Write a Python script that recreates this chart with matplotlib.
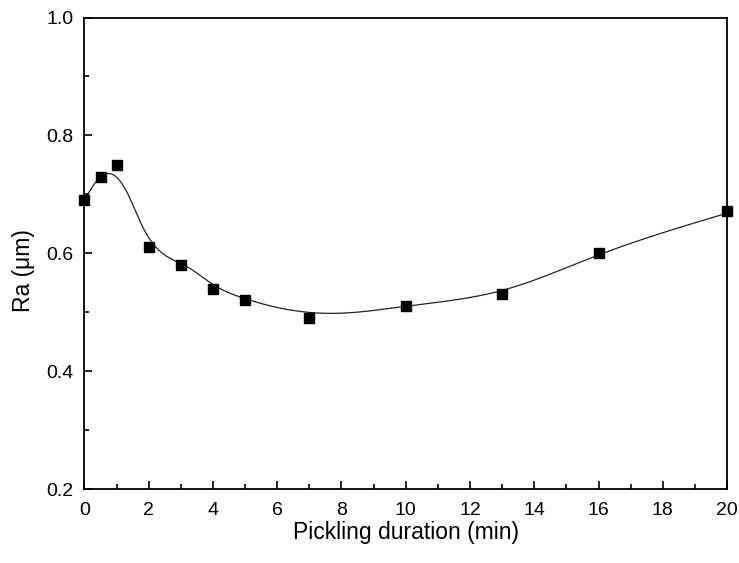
import numpy as np
import matplotlib
matplotlib.use("Agg")
import matplotlib.pyplot as plt
from matplotlib.ticker import MultipleLocator

# measured data points
duration = [0, 0.5, 1, 2, 3, 4, 5, 7, 10, 13, 16, 20]
ra = [0.69, 0.73, 0.75, 0.611, 0.58, 0.54, 0.521, 0.49, 0.511, 0.531, 0.60, 0.671]

# fitted curve (knots)
curve_x = [0, 0.4, 0.8, 1.3, 1.8, 2.5, 3.2, 4, 5, 6, 7.7, 10, 13, 16, 20]
curve_y = [0.69, 0.724, 0.735, 0.706, 0.646, 0.597, 0.577, 0.547, 0.523, 0.508, 0.498, 0.510,
           0.537, 0.597, 0.668]


def natural_spline(xk, yk, xs):
    xk = np.asarray(xk, float); yk = np.asarray(yk, float)
    n = len(xk)
    h = np.diff(xk)
    A = np.zeros((n, n)); b = np.zeros(n)
    A[0, 0] = 1; A[-1, -1] = 1
    for i in range(1, n - 1):
        A[i, i - 1] = h[i - 1]
        A[i, i] = 2 * (h[i - 1] + h[i])
        A[i, i + 1] = h[i]
        b[i] = 6 * ((yk[i + 1] - yk[i]) / h[i] - (yk[i] - yk[i - 1]) / h[i - 1])
    M = np.linalg.solve(A, b)
    idx = np.clip(np.searchsorted(xk, xs) - 1, 0, n - 2)
    x0 = xk[idx]; x1 = xk[idx + 1]; hh = x1 - x0
    t0 = x1 - xs; t1 = xs - x0
    return (M[idx] * t0**3 / (6 * hh) + M[idx + 1] * t1**3 / (6 * hh)
            + (yk[idx] / hh - M[idx] * hh / 6) * t0 + (yk[idx + 1] / hh - M[idx + 1] * hh / 6) * t1)


plt.rcParams['font.family'] = ['Liberation Sans', 'DejaVu Sans']

fig = plt.figure(figsize=(7.39, 5.63), dpi=100)
ax = fig.add_axes([0.1143, 0.1314, 0.8695, 0.8375])

xs = np.linspace(0, 20, 600)
ax.plot(xs, natural_spline(curve_x, curve_y, xs), color='#222222', lw=0.9)
ax.plot(duration, ra, linestyle='none', marker='s', color='black', markersize=7, clip_on=False)

ax.set_xlim(0, 20)
ax.set_ylim(0.2, 1.0)
ax.xaxis.set_major_locator(MultipleLocator(2))
ax.xaxis.set_minor_locator(MultipleLocator(1))
ax.yaxis.set_major_locator(MultipleLocator(0.2))
ax.yaxis.set_minor_locator(MultipleLocator(0.1))
ax.tick_params(which='both', direction='in', labelsize=14, width=1.2)
ax.tick_params(which='major', length=6)
ax.tick_params(axis='x', which='major', pad=9)
ax.tick_params(axis='y', which='major', pad=8)
ax.tick_params(which='minor', length=3.5)
for s in ax.spines.values():
    s.set_linewidth(1.3)

ax.set_xlabel('Pickling duration (min)', fontsize=16.5, labelpad=2)
ax.set_ylabel('Ra (μm)', fontsize=16.5, labelpad=8)
ax.yaxis.label.set_y(0.464)

fig.savefig('out.png', dpi=100)
